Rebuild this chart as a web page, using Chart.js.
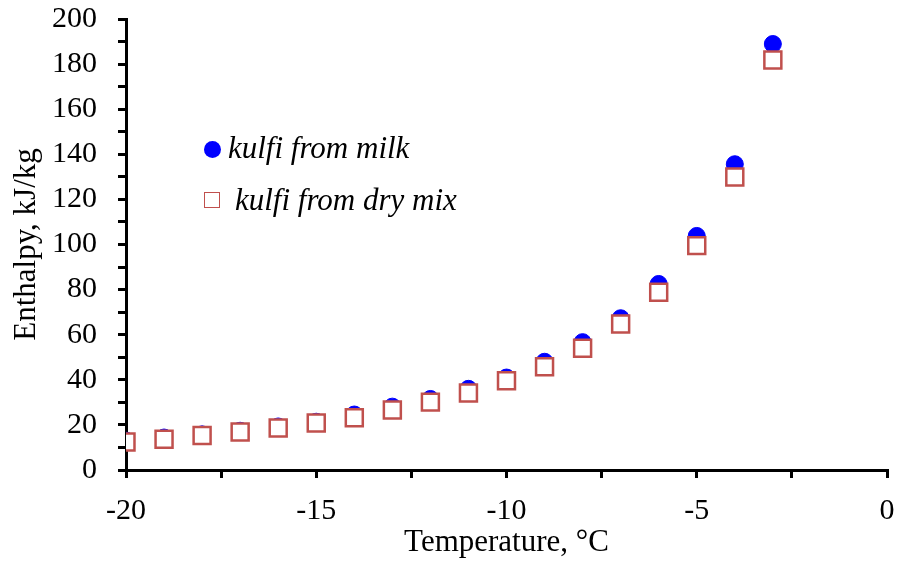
<!DOCTYPE html>
<html>
<head>
<meta charset="utf-8">
<script src="https://cdn.jsdelivr.net/npm/chart.js@4.4.1/dist/chart.umd.min.js"></script>
<style>
  html, body { margin: 0; padding: 0; background: #fff; }
  #wrap { position: relative; width: 897px; height: 563px; }
  #legend { position: absolute; left: 0; top: 0; font-family: "Liberation Serif", "Times New Roman", serif; font-style: italic; font-size: 31px; color: #000; }
  .item { position: absolute; white-space: nowrap; line-height: 31px; }
  .mark { position: absolute; box-sizing: border-box; }
</style>
</head>
<body>
<div id="wrap">
  <canvas id="chart" width="897" height="563"></canvas>
  <div id="legend"></div>
</div>
<script>
// temperature, °C
var temperature = [-20, -19, -18, -17, -16, -15, -14, -13, -12, -11, -10, -9, -8, -7, -6, -5, -4, -3];
// enthalpy, kJ/kg
var kulfiMilk = [13, 14.4, 15.8, 17.4, 19.3, 21.4, 24.6, 28.1, 31.5, 36, 41, 48, 56.7, 67.3, 82.5, 103.8, 135.6, 188.9];
var kulfiDryMix = [12.4, 13.6, 15.3, 16.9, 18.6, 20.8, 23.2, 26.6, 30.1, 34.1, 39.6, 45.8, 54, 64.7, 78.8, 99.5, 129.9, 181.8];
var seriesNames = ['kulfi from milk', 'kulfi from dry mix'];

var serif = '"Liberation Serif", "Times New Roman", serif';

function toPoints(ys) {
  return temperature.map(function (t, i) { return { x: t, y: ys[i] }; });
}

var ctx = document.getElementById('chart');
var chart = new Chart(ctx, {
  type: 'scatter',
  data: {
    datasets: [
      {
        label: seriesNames[0],
        data: toPoints(kulfiMilk),
        pointStyle: 'circle',
        pointRadius: 8.5,
        backgroundColor: '#0000ff',
        borderColor: '#0000ff',
        borderWidth: 1,
        order: 1
      },
      {
        label: seriesNames[1],
        data: toPoints(kulfiDryMix),
        pointStyle: 'rect',
        pointRadius: 12,
        backgroundColor: '#ffffff',
        borderColor: '#c0504d',
        borderWidth: 2.5,
        order: 0
      }
    ]
  },
  options: {
    responsive: false,
    animation: false,
    layout: { autoPadding: false, padding: { top: 19, right: 10, left: 0, bottom: 2 } },
    plugins: {
      legend: { display: false },
      tooltip: { enabled: false }
    },
    scales: {
      x: {
        type: 'linear',
        min: -20,
        max: 0,
        border: { color: '#000', width: 3 },
        grid: { drawOnChartArea: false, drawTicks: true, tickLength: 8, color: '#000', lineWidth: 3 },
        ticks: {
          stepSize: 2.5,
          color: '#000',
          padding: 15,
          maxRotation: 0,
          autoSkip: false,
          font: { family: serif, size: 30 },
          callback: function (v) { return v % 5 === 0 ? String(v) : ''; }
        },
        title: {
          display: true,
          text: 'Temperature, °C',
          color: '#000',
          padding: { top: 0, bottom: 0 },
          font: { family: serif, size: 31 }
        },
        afterFit: function (scale) {
          scale.height = 91;
          scale.paddingLeft = 0;
          scale.paddingRight = 0;
        }
      },
      y: {
        type: 'linear',
        min: 0,
        max: 200,
        border: { color: '#000', width: 3 },
        grid: { drawOnChartArea: false, drawTicks: true, tickLength: 8, color: '#000', lineWidth: 3 },
        ticks: {
          stepSize: 10,
          color: '#000',
          padding: 21,
          autoSkip: false,
          font: { family: serif, size: 30 },
          callback: function (v) { return v % 20 === 0 ? String(v) : ''; }
        },
        title: {
          display: true,
          text: 'Enthalpy, kJ/kg',
          color: '#000',
          padding: { top: 8, bottom: 0 },
          font: { family: serif, size: 31 }
        },
        afterFit: function (scale) {
          scale.width = 126;
          scale.paddingTop = 0;
          scale.paddingBottom = 0;
        }
      }
    }
  }
});

// legend placed inside the plot, markers styled from the datasets
var legend = document.getElementById('legend');
var legendRows = [
  { left: 228, top: 132, markX: 212, markY: 149 },
  { left: 235, top: 184, markX: 212, markY: 200 }
];
chart.data.datasets.forEach(function (ds, i) {
  var row = legendRows[i];
  var mark = document.createElement('div');
  mark.className = 'mark';
  if (ds.pointStyle === 'circle') {
    mark.style.width = '17px'; mark.style.height = '17px';
    mark.style.borderRadius = '50%';
    mark.style.background = ds.backgroundColor;
    mark.style.left = (row.markX - 8.5) + 'px'; mark.style.top = (row.markY - 8.5) + 'px';
  } else {
    mark.style.width = '16px'; mark.style.height = '16px';
    mark.style.border = '1.5px solid ' + ds.borderColor;
    mark.style.background = ds.backgroundColor;
    mark.style.left = (row.markX - 8) + 'px'; mark.style.top = (row.markY - 8) + 'px';
  }
  legend.appendChild(mark);
  var label = document.createElement('div');
  label.className = 'item';
  label.textContent = ds.label;
  label.style.left = row.left + 'px';
  label.style.top = row.top + 'px';
  legend.appendChild(label);
});
</script>
</body>
</html>
